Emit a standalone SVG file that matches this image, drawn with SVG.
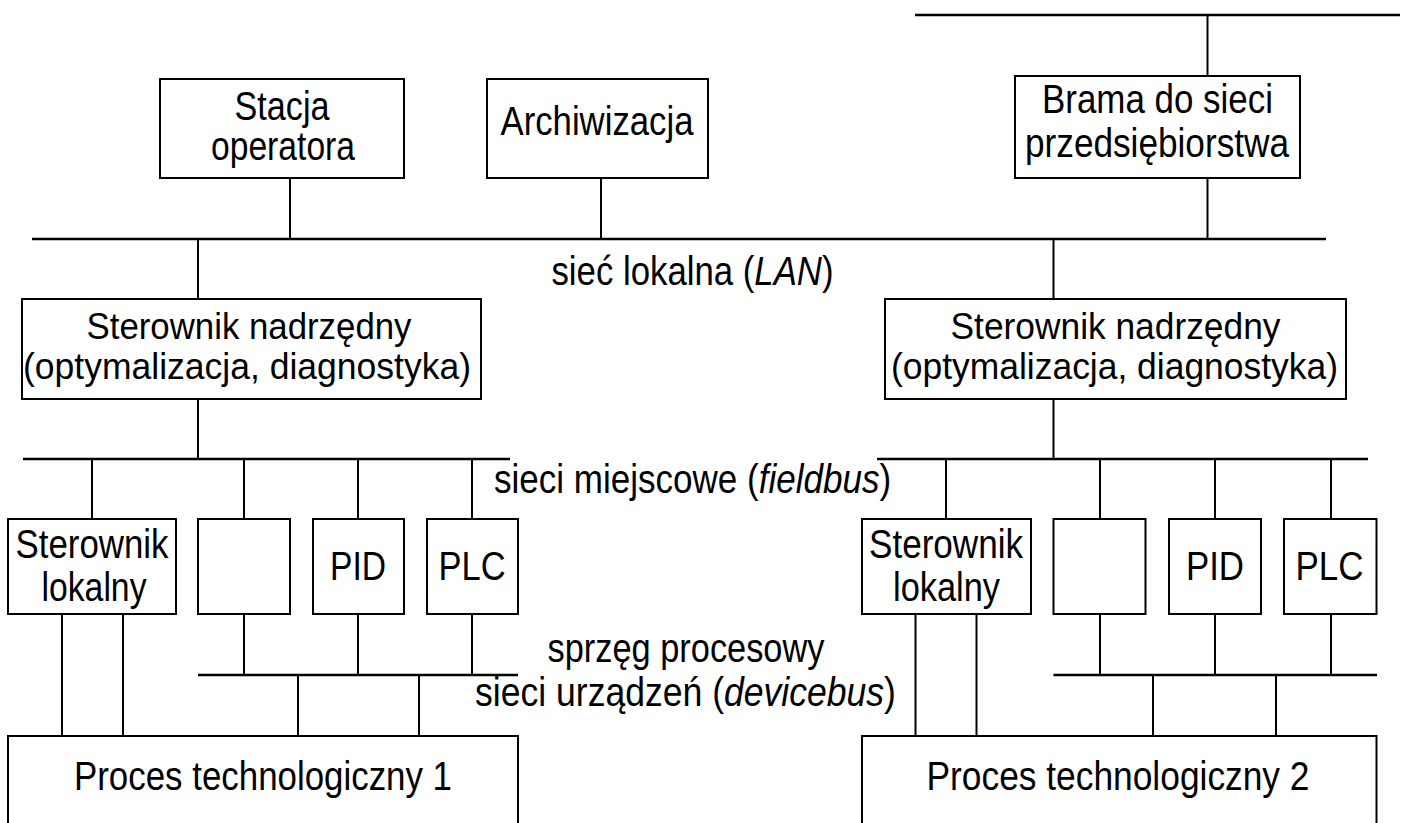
<svg xmlns="http://www.w3.org/2000/svg" width="1407" height="823" viewBox="0 0 1407 823">
<style>
  .box { fill: #fff; stroke: #000; stroke-width: 2; }
  .bus { stroke: #000; stroke-width: 2.6; fill: none; }
  .wire { stroke: #000; stroke-width: 2; fill: none; }
  text { font-family: "Liberation Sans", Arial, sans-serif; font-size: 40px; fill: #000; text-anchor: middle; }
  .sm { font-size: 37px; }
  .it { font-style: italic; }
</style>
<rect width="1407" height="823" fill="#fff"/>
<g id="connectors">
  <line class="bus" x1="915" y1="15" x2="1400" y2="15"/>
  <line class="bus" x1="32" y1="239" x2="1326" y2="239"/>
  <line class="bus" x1="23" y1="459" x2="510" y2="459"/>
  <line class="bus" x1="877" y1="459" x2="1368" y2="459"/>
  <line class="bus" x1="198" y1="675" x2="518" y2="675"/>
  <line class="bus" x1="1053.5" y1="675" x2="1377" y2="675"/>
  <line class="wire" x1="1207.5" y1="15" x2="1207.5" y2="76"/>
  <line class="wire" x1="1207.5" y1="178" x2="1207.5" y2="239"/>
  <line class="wire" x1="290" y1="178" x2="290" y2="239"/>
  <line class="wire" x1="601" y1="178" x2="601" y2="239"/>
  <line class="wire" x1="198" y1="239" x2="198" y2="299"/>
  <line class="wire" x1="1053.5" y1="239" x2="1053.5" y2="299"/>
  <line class="wire" x1="198" y1="399" x2="198" y2="459"/>
  <line class="wire" x1="1053.5" y1="399" x2="1053.5" y2="459"/>
  <line class="wire" x1="92" y1="459" x2="92" y2="519"/>
  <line class="wire" x1="244" y1="459" x2="244" y2="519"/>
  <line class="wire" x1="358" y1="459" x2="358" y2="519"/>
  <line class="wire" x1="472" y1="459" x2="472" y2="519"/>
  <line class="wire" x1="946" y1="459" x2="946" y2="519"/>
  <line class="wire" x1="1100" y1="459" x2="1100" y2="519"/>
  <line class="wire" x1="1215" y1="459" x2="1215" y2="519"/>
  <line class="wire" x1="1331" y1="459" x2="1331" y2="519"/>
  <line class="wire" x1="62" y1="614" x2="62" y2="736"/>
  <line class="wire" x1="123" y1="614" x2="123" y2="736"/>
  <line class="wire" x1="915.5" y1="614" x2="915.5" y2="736"/>
  <line class="wire" x1="976.5" y1="614" x2="976.5" y2="736"/>
  <line class="wire" x1="244" y1="614" x2="244" y2="675"/>
  <line class="wire" x1="358" y1="614" x2="358" y2="675"/>
  <line class="wire" x1="472" y1="614" x2="472" y2="675"/>
  <line class="wire" x1="1100" y1="614" x2="1100" y2="675"/>
  <line class="wire" x1="1215" y1="614" x2="1215" y2="675"/>
  <line class="wire" x1="1331" y1="614" x2="1331" y2="675"/>
  <line class="wire" x1="298" y1="675" x2="298" y2="736"/>
  <line class="wire" x1="419" y1="675" x2="419" y2="736"/>
  <line class="wire" x1="1153" y1="675" x2="1153" y2="736"/>
  <line class="wire" x1="1276" y1="675" x2="1276" y2="736"/>
</g>
<g id="labels">
  <text transform="translate(692.5,285) scale(0.869,1)">sieć lokalna (<tspan class="it">LAN</tspan>)</text>
  <text transform="translate(692.5,493) scale(0.876,1)">sieci miejscowe (<tspan class="it">fieldbus</tspan>)</text>
  <text x="686" y="662" textLength="277" lengthAdjust="spacingAndGlyphs">sprzęg procesowy</text>
  <text transform="translate(685.5,706) scale(0.889,1)">sieci urządzeń (<tspan class="it">devicebus</tspan>)</text>
</g>
<g id="stacja">
  <rect class="box" x="160" y="79" width="244" height="99"/>
  <text x="282" y="120" textLength="95" lengthAdjust="spacingAndGlyphs">Stacja</text>
  <text x="283" y="160" textLength="144" lengthAdjust="spacingAndGlyphs">operatora</text>
</g>
<g id="archiwizacja">
  <rect class="box" x="487" y="79" width="221" height="99"/>
  <text x="597" y="135" textLength="193" lengthAdjust="spacingAndGlyphs">Archiwizacja</text>
</g>
<g id="brama">
  <rect class="box" x="1015" y="76" width="285" height="102"/>
  <text x="1157.5" y="113" textLength="231" lengthAdjust="spacingAndGlyphs">Brama do sieci</text>
  <text x="1157" y="157" textLength="264" lengthAdjust="spacingAndGlyphs">przedsiębiorstwa</text>
</g>
<g id="nadrzedny1">
  <rect class="box" x="22" y="299" width="459" height="100"/>
  <text class="sm" x="249" y="339" textLength="325" lengthAdjust="spacingAndGlyphs">Sterownik nadrzędny</text>
  <text class="sm" x="247" y="379" textLength="448" lengthAdjust="spacingAndGlyphs">(optymalizacja, diagnostyka)</text>
</g>
<g id="nadrzedny2">
  <rect class="box" x="885" y="299" width="461" height="100"/>
  <text class="sm" x="1115.5" y="339" textLength="330" lengthAdjust="spacingAndGlyphs">Sterownik nadrzędny</text>
  <text class="sm" x="1114.5" y="379" textLength="447" lengthAdjust="spacingAndGlyphs">(optymalizacja, diagnostyka)</text>
</g>
<g id="lokalny1">
  <rect class="box" x="8" y="519" width="168" height="95"/>
  <text x="92" y="558" textLength="153" lengthAdjust="spacingAndGlyphs">Sterownik</text>
  <text x="94" y="601" textLength="105" lengthAdjust="spacingAndGlyphs">lokalny</text>
</g>
<g id="blank1">
  <rect class="box" x="198" y="519" width="92" height="95"/>
</g>
<g id="pid1">
  <rect class="box" x="313" y="519" width="91" height="95"/>
  <text x="358" y="580" textLength="56" lengthAdjust="spacingAndGlyphs">PID</text>
</g>
<g id="plc1">
  <rect class="box" x="427" y="519" width="91" height="95"/>
  <text x="472" y="580" textLength="67" lengthAdjust="spacingAndGlyphs">PLC</text>
</g>
<g id="lokalny2">
  <rect class="box" x="862" y="519" width="169" height="95"/>
  <text x="946" y="558" textLength="154" lengthAdjust="spacingAndGlyphs">Sterownik</text>
  <text x="946.5" y="601" textLength="107" lengthAdjust="spacingAndGlyphs">lokalny</text>
</g>
<g id="blank2">
  <rect class="box" x="1053.5" y="519" width="92" height="95"/>
</g>
<g id="pid2">
  <rect class="box" x="1169" y="519" width="92" height="95"/>
  <text x="1215" y="580" textLength="58" lengthAdjust="spacingAndGlyphs">PID</text>
</g>
<g id="plc2">
  <rect class="box" x="1284" y="519" width="92.5" height="95"/>
  <text x="1329.5" y="580" textLength="68" lengthAdjust="spacingAndGlyphs">PLC</text>
</g>
<g id="proces1">
  <rect class="box" x="8" y="736" width="510" height="110"/>
  <text x="263" y="790" textLength="378" lengthAdjust="spacingAndGlyphs">Proces technologiczny 1</text>
</g>
<g id="proces2">
  <rect class="box" x="862" y="736" width="514.5" height="110"/>
  <text x="1118" y="790" textLength="383" lengthAdjust="spacingAndGlyphs">Proces technologiczny 2</text>
</g>
</svg>
